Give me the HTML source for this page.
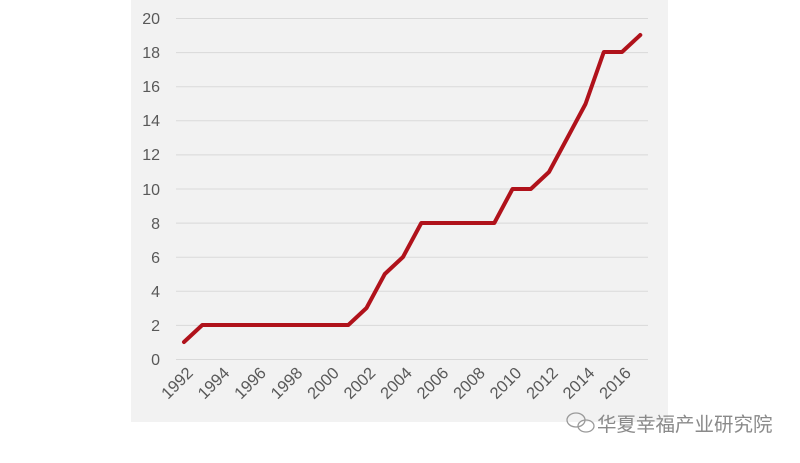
<!DOCTYPE html>
<html><head><meta charset="utf-8"><style>
body{margin:0;background:#fff;width:800px;height:458px;overflow:hidden}
</style></head><body>
<svg width="800" height="458" xmlns="http://www.w3.org/2000/svg" font-family="Liberation Sans, sans-serif">
<rect x="131" y="0" width="537" height="422" fill="#f2f2f2"/>
<g stroke="#d9d9d9" stroke-width="1">
<line x1="176" x2="648" y1="18.5" y2="18.5"/><line x1="176" x2="648" y1="52.6" y2="52.6"/>
<line x1="176" x2="648" y1="86.7" y2="86.7"/><line x1="176" x2="648" y1="120.8" y2="120.8"/>
<line x1="176" x2="648" y1="154.9" y2="154.9"/><line x1="176" x2="648" y1="189" y2="189"/>
<line x1="176" x2="648" y1="223.1" y2="223.1"/><line x1="176" x2="648" y1="257.2" y2="257.2"/>
<line x1="176" x2="648" y1="291.3" y2="291.3"/><line x1="176" x2="648" y1="325.4" y2="325.4"/>
<line x1="176" x2="648" y1="359.5" y2="359.5"/>
</g>
<g fill="#595959" font-size="16" text-anchor="end">
<text x="160" y="24">20</text><text x="160" y="58">18</text><text x="160" y="92">16</text>
<text x="160" y="126">14</text><text x="160" y="160">12</text><text x="160" y="195">10</text>
<text x="160" y="229">8</text><text x="160" y="263">6</text><text x="160" y="297">4</text>
<text x="160" y="331">2</text><text x="160" y="365">0</text>
</g>
<g fill="#595959" font-size="16.5" text-anchor="end">
<text transform="translate(194,374) rotate(-45)">1992</text>
<text transform="translate(230.5,374) rotate(-45)">1994</text>
<text transform="translate(267,374) rotate(-45)">1996</text>
<text transform="translate(303.5,374) rotate(-45)">1998</text>
<text transform="translate(340,374) rotate(-45)">2000</text>
<text transform="translate(376.5,374) rotate(-45)">2002</text>
<text transform="translate(413,374) rotate(-45)">2004</text>
<text transform="translate(449.5,374) rotate(-45)">2006</text>
<text transform="translate(486,374) rotate(-45)">2008</text>
<text transform="translate(522.5,374) rotate(-45)">2010</text>
<text transform="translate(559,374) rotate(-45)">2012</text>
<text transform="translate(595.5,374) rotate(-45)">2014</text>
<text transform="translate(632,374) rotate(-45)">2016</text>
</g>
<polyline fill="none" stroke="#b0121b" stroke-width="4" stroke-linejoin="round" stroke-linecap="round"
points="184,342 202.3,325 220.5,325 238.8,325 257,325 275.3,325 293.5,325 311.8,325 330,325 348.3,325 366.5,308 384.8,274 403,257 421.3,223 439.5,223 457.8,223 476,223 494.3,223 512.5,189 530.8,189 549,172 567.3,138 585.5,104 603.8,52 622,52 640.3,35"/>
<g fill="none" stroke="#9a9a9a" stroke-width="1.3">
<ellipse cx="576" cy="420" rx="9" ry="7"/><ellipse cx="586" cy="426" rx="8" ry="6"/>
</g>
<text x="597" y="431" font-size="19.5" fill="#8a8a8a" font-family="Liberation Sans, Noto Sans CJK SC, sans-serif">华夏幸福产业研究院</text>
</svg>
</body></html>
